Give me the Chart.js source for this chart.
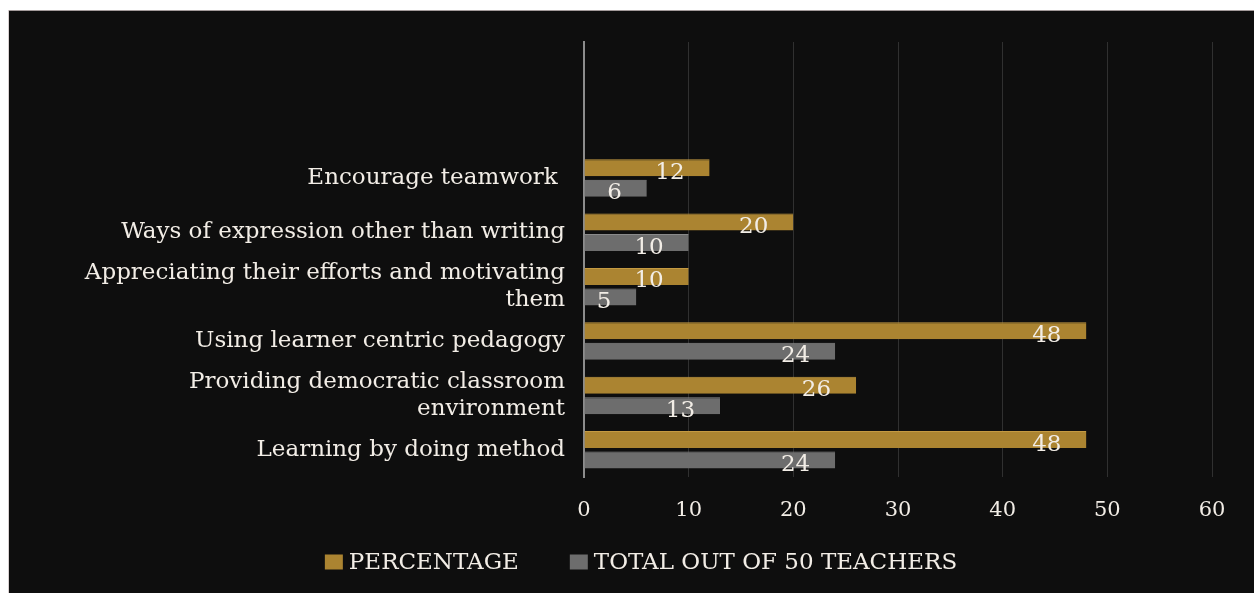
<!DOCTYPE html>
<html>
<head>
<meta charset="utf-8">
<script src="https://cdn.jsdelivr.net/npm/chart.js@4/dist/chart.umd.min.js"></script>
<style>
html,body{margin:0;padding:0;background:#fff;}
canvas{display:block;}
</style>
</head>
<body>
<canvas id="c" width="1254" height="593"></canvas>
<script>
const categories = [
  'Encourage teamwork ',
  'Ways of expression other than writing',
  ['Appreciating their efforts and motivating', 'them'],
  'Using learner centric pedagogy',
  ['Providing democratic classroom', 'environment'],
  'Learning by doing method'
];
const percentage = [12, 20, 10, 48, 26, 48];
const totalOf50 = [6, 10, 5, 24, 13, 24];
const seriesNames = ['PERCENTAGE', 'TOTAL OUT OF 50 TEACHERS'];
const xTicks = [0, 10, 20, 30, 40, 50, 60];

const SERIF = '"DejaVu Serif", serif';
const TEXT = '#f2ede6';
const GOLD = '#ab8431';
const GRAY = '#6d6d6d';

// two empty category slots on top (blank space in the original plot area)
const labels = ['', ''].concat(categories);
const pad = arr => [null, null].concat(arr);

const bgPlugin = {
  id: 'bg',
  beforeDraw(chart) {
    const ctx = chart.ctx;
    ctx.save();
    ctx.fillStyle = '#ffffff';
    ctx.fillRect(0, 0, chart.width, chart.height);
    ctx.fillStyle = '#0e0e0e';
    ctx.fillRect(8, 10, chart.width - 8, chart.height - 10);
    ctx.fillStyle = '#a39a9a';
    ctx.fillRect(8, 10, chart.width - 8, 1);
    ctx.fillStyle = '#d8d0d0';
    ctx.fillRect(8, 10, 1, chart.height - 10);
    ctx.restore();
  }
};

const valueLabels = {
  id: 'valueLabels',
  afterDatasetsDraw(chart) {
    const ctx = chart.ctx;
    ctx.save();
    ctx.font = '23px ' + SERIF;
    ctx.fillStyle = TEXT;
    ctx.textAlign = 'right';
    ctx.textBaseline = 'middle';
    chart.data.datasets.forEach((ds, i) => {
      const meta = chart.getDatasetMeta(i);
      meta.data.forEach((el, j) => {
        const v = ds.data[j];
        if (v === null || v === undefined) return;
        ctx.fillText(String(v), el.x - 25, el.y + 5);
      });
    });
    ctx.restore();
  }
};

const customLegend = {
  id: 'customLegend',
  afterDraw(chart) {
    const ctx = chart.ctx;
    ctx.save();
    ctx.font = '23px ' + SERIF;
    ctx.textBaseline = 'middle';
    ctx.textAlign = 'left';
    const boxW = 18, boxH = 15, gapBox = 6, gapItem = 51;
    const items = chart.data.datasets.map(d => ({text: d.label, color: d.backgroundColor, w: ctx.measureText(d.label).width}));
    let total = 0;
    items.forEach((it, i) => { total += boxW + gapBox + it.w + (i ? gapItem : 0); });
    let x = 641 - total / 2;
    const yc = 562;
    items.forEach((it, i) => {
      if (i) x += gapItem;
      ctx.fillStyle = it.color;
      ctx.fillRect(x, yc - boxH / 2, boxW, boxH);
      x += boxW + gapBox;
      ctx.fillStyle = TEXT;
      ctx.fillText(it.text, x, yc + 1);
      x += it.w;
    });
    ctx.restore();
  }
};

new Chart(document.getElementById('c'), {
  type: 'bar',
  data: {
    labels: labels,
    datasets: [
      {
        label: seriesNames[0],
        data: pad(percentage),
        backgroundColor: GOLD,
        borderColor: '#c49a42',
        borderWidth: {top: 1, right: 0, bottom: 0, left: 0},
        borderSkipped: false,
        categoryPercentage: 0.755,
        barPercentage: 0.83
      },
      {
        label: seriesNames[1],
        data: pad(totalOf50),
        backgroundColor: GRAY,
        borderColor: '#8a8a8a',
        borderWidth: {top: 1, right: 0, bottom: 0, left: 0},
        borderSkipped: false,
        categoryPercentage: 0.755,
        barPercentage: 0.83
      }
    ]
  },
  options: {
    indexAxis: 'y',
    responsive: false,
    devicePixelRatio: 1,
    animation: false,
    layout: {padding: {top: 42, right: 42, bottom: 0, left: 0}},
    scales: {
      x: {
        min: 0, max: 60,
        afterBuildTicks(scale) { scale.ticks = xTicks.map(v => ({value: v})); },
        afterFit(scale) { scale.height = 116; },
        grid: {color: '#303030', lineWidth: 1, drawTicks: false},
        border: {display: false},
        ticks: {color: TEXT, font: {family: SERIF, size: 21}, padding: 21}
      },
      y: {
        grid: {display: false, drawTicks: false},
        border: {display: true, color: '#8c8c8c', width: 2},
        afterFit(scale) { scale.width = 584; },
        ticks: {color: TEXT, font: {family: SERIF, size: 23, lineHeight: 1.2}, padding: 19, autoSkip: false}
      }
    },
    plugins: {
      legend: {display: false},
      tooltip: {enabled: false}
    }
  },
  plugins: [bgPlugin, valueLabels, customLegend]
});
</script>
</body>
</html>
